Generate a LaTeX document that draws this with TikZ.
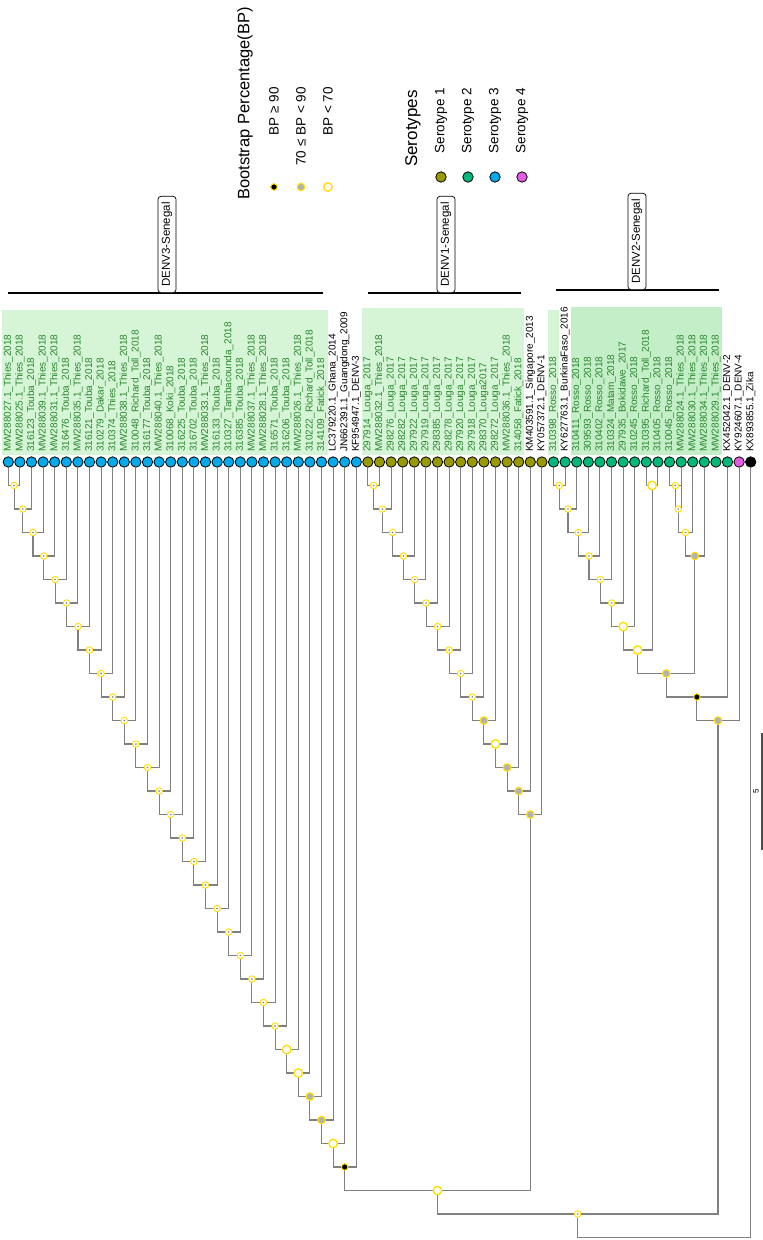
\documentclass[tikz,border=0pt]{standalone}
\usepackage{fontspec}
\setmainfont{Liberation Sans}
\usetikzlibrary{calc}
\definecolor{sero1}{RGB}{153,153,0}
\definecolor{sero2}{RGB}{0,184,122}
\definecolor{sero3}{RGB}{0,170,235}
\definecolor{sero4}{RGB}{228,92,228}
\definecolor{ring}{RGB}{255,222,0}
\definecolor{senlab}{RGB}{40,135,45}
\definecolor{bgA}{RGB}{214,245,214}
\definecolor{bgB}{RGB}{196,238,200}
\definecolor{branch}{RGB}{128,128,128}
\definecolor{midgray}{RGB}{178,178,178}
\begin{document}
\begin{tikzpicture}[x=1pt,y=-1pt,
  br/.style={draw=branch, line width=1.1pt},
  leaf/.style={circle, draw=black, line width=0.8pt, inner sep=0pt, minimum size=10.4pt},
  bpsmall/.style={circle, draw=ring, fill=white, line width=0.9pt, inner sep=0pt, minimum size=6.5pt,
     path picture={\fill[branch] (path picture bounding box.center) circle[radius=0.9pt];}},
  bplow/.style={circle, draw=ring, fill=white, line width=1.3pt, inner sep=0pt, minimum size=8.5pt},
  bpmid/.style={circle, draw=ring, fill=midgray, line width=1.1pt, inner sep=0pt, minimum size=7.5pt},
  bphigh/.style={circle, draw=ring, fill=black, line width=1pt, inner sep=0pt, minimum size=6.5pt},
  lbl/.style={rotate=90, anchor=west, inner sep=0pt, font=\fontsize{10}{12}\selectfont},
  cladebar/.style={draw=black, line width=1.8pt},
  cladebox/.style={rotate=90, anchor=west, draw=black, line width=0.7pt, fill=white, rounded corners=3pt,
     inner xsep=6pt, inner ysep=0pt, minimum height=18pt, font=\fontsize{11.5}{13}\selectfont},
  legtitle/.style={rotate=90, inner sep=0pt, font=\fontsize{16.5}{19}\selectfont},
  legitem/.style={rotate=90, anchor=east, inner sep=0pt, font=\fontsize{13.5}{16}\selectfont},
]
\useasboundingbox (0,0) rectangle (763,1240);
\fill[white] (0,0) rectangle (763,1240);

% label backgrounds
\fill[bgA] (2,310) rectangle (328,455);
\fill[bgA] (362,308) rectangle (524,455);
\fill[bgA] (548,310) rectangle (558.5,455);
\fill[bgB] (571,307) rectangle (722,455);

% leaves
\foreach \i in {1,...,31} \node[leaf, fill=sero3] (L\i) at ({8.3+(\i-1)*11.6},462) {};
\foreach \i in {32,...,47} \node[leaf, fill=sero1] (L\i) at ({8.3+(\i-1)*11.6},462) {};
\foreach \i in {48,...,63} \node[leaf, fill=sero2] (L\i) at ({8.3+(\i-1)*11.6},462) {};
\node[leaf, fill=sero4] (L64) at ({8.3+63*11.6},462) {};
\node[leaf, fill=black] (L65) at ({8.3+64*11.6},462) {};

% levels
\foreach \k in {1,...,33} \coordinate (lv\k) at (0,{462+\k*23.5});

% DENV3 chain
\coordinate (tmp) at ($(L1)!.5!(L2)$); \coordinate (A1) at (tmp |- lv1);
\draw[br] (A1) -| (L1) (A1) -| (L2);
\foreach \k in {2,...,30}{
  \pgfmathtruncatemacro\p{\k-1}\pgfmathtruncatemacro\l{\k+1}
  \coordinate (tmp) at ($(A\p)!.5!(L\l)$); \coordinate (A\k) at (tmp |- lv\k);
  \draw[br] (A\k) -| (A\p) (A\k) -| (L\l);
}
% DENV1 chain
\coordinate (tmp) at ($(L32)!.5!(L33)$); \coordinate (B1) at (tmp |- lv1);
\draw[br] (B1) -| (L32) (B1) -| (L33);
\foreach \k in {2,...,15}{
  \pgfmathtruncatemacro\p{\k-1}\pgfmathtruncatemacro\l{\k+32}
  \coordinate (tmp) at ($(B\p)!.5!(L\l)$); \coordinate (B\k) at (tmp |- lv\k);
  \draw[br] (B\k) -| (B\p) (B\k) -| (L\l);
}
% DENV2 chain
\coordinate (tmp) at ($(L48)!.5!(L49)$); \coordinate (C1) at (tmp |- lv1);
\draw[br] (C1) -| (L48) (C1) -| (L49);
\foreach \k in {2,...,7}{
  \pgfmathtruncatemacro\p{\k-1}\pgfmathtruncatemacro\l{\k+48}
  \coordinate (tmp) at ($(C\p)!.5!(L\l)$); \coordinate (C\k) at (tmp |- lv\k);
  \draw[br] (C\k) -| (C\p) (C\k) -| (L\l);
}
\coordinate (tmp) at ($(L56)!.5!(L57)$); \coordinate (E1) at (tmp |- lv1);
\draw[br] (E1) -| (L56) (E1) -| (L57);
\coordinate (tmp) at ($(C7)!.5!(E1)$); \coordinate (C8) at (tmp |- lv8);
\draw[br] (C8) -| (C7) (C8) -| (E1);
\coordinate (tmp) at ($(L58)!.5!(L59)$); \coordinate (F1) at (tmp |- lv1);
\draw[br] (F1) -| (L58) (F1) -| (L59);
\foreach \k in {2,...,4}{
  \pgfmathtruncatemacro\p{\k-1}\pgfmathtruncatemacro\l{\k+57}
  \coordinate (tmp) at ($(F\p)!.5!(L\l)$); \coordinate (F\k) at (tmp |- lv\k);
  \draw[br] (F\k) -| (F\p) (F\k) -| (L\l);
}
\coordinate (tmp) at ($(C8)!.5!(F4)$); \coordinate (C9) at (tmp |- lv9);
\draw[br] (C9) -| (C8) (C9) -| (F4);
\coordinate (tmp) at ($(C9)!.5!(L63)$); \coordinate (C10) at (tmp |- lv10);
\draw[br] (C10) -| (C9) (C10) -| (L63);
\coordinate (tmp) at ($(C10)!.5!(L64)$); \coordinate (C11) at (tmp |- lv11);
\draw[br] (C11) -| (C10) (C11) -| (L64);
% deep nodes
\coordinate (tmp) at ($(A30)!.5!(B15)$); \coordinate (J1) at (tmp |- lv31);
\draw[br] (J1) -| (A30) (J1) -| (B15);
\coordinate (tmp) at ($(J1)!.5!(C11)$); \coordinate (J2) at (tmp |- lv32);
\draw[br] (J2) -| (J1) (J2) -| (C11);
\coordinate (tmp) at ($(J2)!.5!(L65)$); \coordinate (R) at (tmp |- lv33);
\draw[br] (R) -| (J2) (R) -| (L65);

% node markers
\foreach \k in {1,...,24} \node[bpsmall] (mA\k) at (A\k) {};
\node[bplow] (mA25) at (A25) {};
\node[bplow] (mA26) at (A26) {};
\node[bpmid] (mA27) at (A27) {};
\node[bpmid] (mA28) at (A28) {};
\node[bplow] (mA29) at (A29) {};
\node[bphigh] (mA30) at (A30) {};
\foreach \k in {1,...,10} \node[bpsmall] (mB\k) at (B\k) {};
\node[bpmid] (mB11) at (B11) {};
\node[bplow] (mB12) at (B12) {};
\node[bpmid] (mB13) at (B13) {};
\node[bpmid] (mB14) at (B14) {};
\node[bpmid] (mB15) at (B15) {};
\foreach \k in {1,...,6} \node[bpsmall] (mC\k) at (C\k) {};
\node[bplow] (mC7) at (C7) {};
\node[bplow] (mE1) at (E1) {};
\node[bplow] (mC8) at (C8) {};
\foreach \k in {1,...,3} \node[bpsmall] (mF\k) at (F\k) {};
\node[bpmid] (mF4) at (F4) {};
\node[bpmid] (mC9) at (C9) {};
\node[bphigh] (mC10) at (C10) {};
\node[bpmid] (mC11) at (C11) {};
\node[bplow] (mJ1) at (J1) {};
\node[bpsmall] (mJ2) at (J2) {};

% leaf labels
\foreach \i/\t/\c in {
1/MW288027.1\_Thies\_2018/senlab, 2/MW288025.1\_Thies\_2018/senlab, 3/316123\_Touba\_2018/senlab,
4/MW288039.1\_Thies\_2018/senlab, 5/MW288031.1\_Thies\_2018/senlab, 6/316476\_Touba\_2018/senlab,
7/MW288035.1\_Thies\_2018/senlab, 8/316121\_Touba\_2018/senlab, 9/310279\_Dakar\_2018/senlab,
10/310374\_Thies\_2018/senlab, 11/MW288038.1\_Thies\_2018/senlab, 12/310048\_Richard\_Toll\_2018/senlab,
13/316177\_Touba\_2018/senlab, 14/MW288040.1\_Thies\_2018/senlab, 15/310068\_Koki\_2018/senlab,
16/316225\_Touba\_2018/senlab, 17/316702\_Touba\_2018/senlab, 18/MW288033.1\_Thies\_2018/senlab,
19/316133\_Touba\_2018/senlab, 20/310327\_Tambacounda\_2018/senlab, 21/316385\_Touba\_2018/senlab,
22/MW288037.1\_Thies\_2018/senlab, 23/MW288028.1\_Thies\_2018/senlab, 24/316571\_Touba\_2018/senlab,
25/316206\_Touba\_2018/senlab, 26/MW288026.1\_Thies\_2018/senlab, 27/310222\_Richard\_Toll\_2018/senlab,
28/314109\_Fatick\_2018/senlab, 29/LC379220.1\_Ghana\_2014/black, 30/JN662391.1\_Guangdong\_2009/black,
31/KF954947.1\_DENV-3/black, 32/297914\_Louga\_2017/senlab, 33/MW288032.1\_Thies\_2018/senlab,
34/298276\_Louga\_2017/senlab, 35/298282\_Louga\_2017/senlab, 36/297922\_Louga\_2017/senlab,
37/297919\_Louga\_2017/senlab, 38/298385\_Louga\_2017/senlab, 39/298278\_Louga\_2017/senlab,
40/297920\_Louga\_2017/senlab, 41/297918\_Louga\_2017/senlab, 42/298370\_Louga2017/senlab,
43/298272\_Louga\_2017/senlab, 44/MW288036.1\_Thies\_2018/senlab, 45/314058\_Fatick\_2018/senlab,
46/KM403591.1\_Singapore\_2013/black, 47/KY057372.1\_DENV-1/black, 48/310398\_Rosso\_2018/senlab,
49/KY627763.1\_BurkinaFaso\_2016/black, 50/310411\_Rosso\_2018/senlab, 51/309593\_Rosso\_2018/senlab,
52/310402\_Rosso\_2018/senlab, 53/310324\_Matam\_2018/senlab, 54/297935\_Bokidawe\_2017/senlab,
55/310245\_Rosso\_2018/senlab, 56/310395\_Richard\_Toll\_2018/senlab, 57/310405\_Rosso\_2018/senlab,
58/310045\_Rosso\_2018/senlab, 59/MW288024.1\_Thies\_2018/senlab, 60/MW288030.1\_Thies\_2018/senlab,
61/MW288034.1\_Thies\_2018/senlab, 62/MW288029.1\_Thies\_2018/senlab, 63/KX452042.1\_DENV-2/black,
64/KY924607.1\_DENV-4/black, 65/KX893855.1\_Zika/black}
  \node[lbl, text=\c] (T\i) at ({8.3+(\i-1)*11.6},452) {\t};

% clade bars
\coordinate (d3a) at (8,293); \coordinate (d3b) at (323,293);
\draw[cladebar] (d3a) -- (d3b);
\node[cladebox] (D3box) at (167,293) {DENV3-Senegal};
\coordinate (d1a) at (368,293); \coordinate (d1b) at (521,293);
\draw[cladebar] (d1a) -- (d1b);
\node[cladebox] (D1box) at (446,293) {DENV1-Senegal};
\coordinate (d2a) at (556,290); \coordinate (d2b) at (719,290);
\draw[cladebar] (d2a) -- (d2b);
\node[cladebox] (D2box) at (637,290) {DENV2-Senegal};

% scale bar
\coordinate (sb1) at (762,733); \coordinate (sb2) at (762,850);
\draw[draw=black!70, line width=1.2pt] (sb1) -- (sb2);
\node[rotate=90, inner sep=0pt, font=\fontsize{8}{9}\selectfont] (sblab) at (756,791) {5};

% legend: bootstrap
\node[legtitle, anchor=west] (bptitle) at (245,200) {Bootstrap Percentage(BP)};
\node[bphigh] (kh) at (274,187) {};
\node[bpmid] (km) at (301,187) {};
\node[bplow] (kl) at (328,187) {};
\node[legitem] (khl) at (274,87) {BP ≥ 90};
\node[legitem] (kml) at (301,87) {70 ≤ BP < 90};
\node[legitem] (kll) at (328,87) {BP < 70};

% legend: serotypes
\node[legtitle, anchor=west, font=\fontsize{17}{19}\selectfont] (stitle) at (413,167) {Serotypes};
\node[leaf, fill=sero1] (s1) at (441,177) {};
\node[leaf, fill=sero2] (s2) at (468,177) {};
\node[leaf, fill=sero3] (s3) at (495,177) {};
\node[leaf, fill=sero4] (s4) at (522,177) {};
\node[legitem] (s1l) at (441,88) {Serotype 1};
\node[legitem] (s2l) at (468,88) {Serotype 2};
\node[legitem] (s3l) at (495,88) {Serotype 3};
\node[legitem] (s4l) at (522,88) {Serotype 4};
\end{tikzpicture}
\end{document}
